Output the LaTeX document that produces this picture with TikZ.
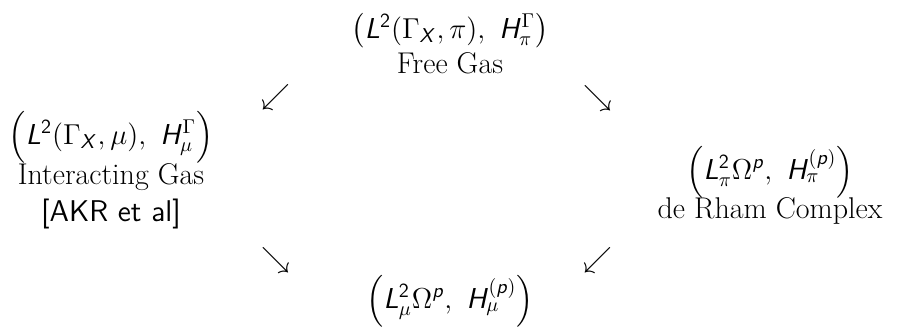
\documentclass[tikz,border=0pt]{standalone}
\usepackage{amsmath}
\DeclareMathAlphabet{\mathsfit}{OT1}{cmss}{m}{sl}
\newcommand\sv[1]{\mathsfit{#1}}
\newcommand\sn[1]{\mathsf{#1}}
\begin{document}
\begin{tikzpicture}[x=0.5pt,y=-0.5pt,
  lbl/.style={inner sep=0pt,align=center,font=\fontsize{15}{18}\selectfont},
  fml/.style={inner sep=0pt,align=center,font=\fontsize{14.5}{17}\selectfont},
  arr/.style={inner sep=0pt,font=\fontsize{14}{17}\selectfont}]
\useasboundingbox (0,0) rectangle (903,329);
\node[fml] (top) at (450,31) {$\big(\sv{L}^{\sn{2}}(\Gamma_{\sv{X}},\pi),\ \sv{H}^{\Gamma}_{\pi}\big)$};
\node[lbl] (topt) at (450,63) {Free Gas};
\node[fml] (left) at (111,137) {$\Big(\sv{L}^{\sn{2}}(\Gamma_{\sv{X}},\mu),\ \sv{H}^{\Gamma}_{\mu}\Big)$};
\node[lbl] (leftt) at (111,177) {Interacting Gas};
\node[lbl] (lefts) at (111,214) {\textsf{[AKR et al]}};
\node[fml] (right) at (770,172) {$\Big(\sv{L}^{\sn{2}}_{\pi}\Omega^{\sv{p}},\ \sv{H}^{(\sv{p})}_{\pi}\Big)$};
\node[lbl] (rightt) at (770,211) {de Rham Complex};
\node[fml] (bot) at (450,301) {$\Big(\sv{L}^{\sn{2}}_{\mu}\Omega^{\sv{p}},\ \sv{H}^{(\sv{p})}_{\mu}\Big)$};
\node[arr] (a1) at (276,97) {$\swarrow$};
\node[arr] (a2) at (598,98) {$\searrow$};
\node[arr] (a3) at (276,260) {$\searrow$};
\node[arr] (a4) at (598,260) {$\swarrow$};
\end{tikzpicture}
\end{document}
